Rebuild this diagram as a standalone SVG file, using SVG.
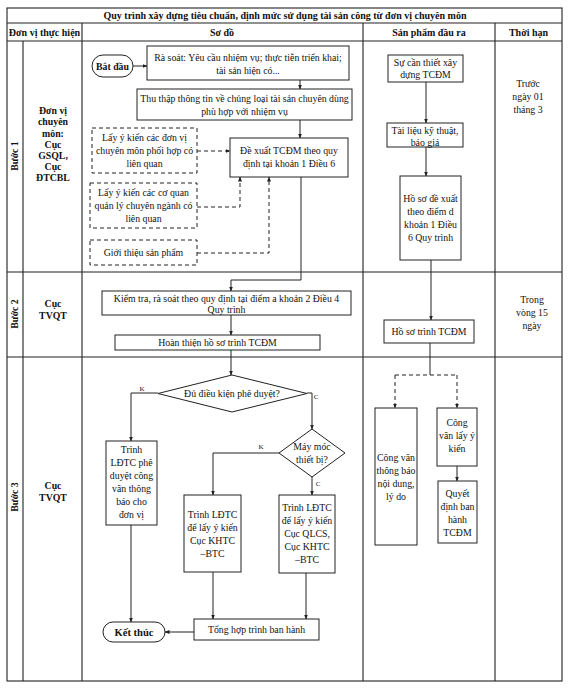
<svg xmlns="http://www.w3.org/2000/svg" width="569" height="688" viewBox="0 0 569 688">
<defs>
<marker id="ah" viewBox="0 0 10 10" refX="9" refY="5" markerWidth="5" markerHeight="5" orient="auto" markerUnits="userSpaceOnUse"><path d="M0,1 L10,5 L0,9 z" fill="#222"/></marker>
</defs>
<style>
text{font-family:"Liberation Serif","Times New Roman",serif;font-size:9.8px;fill:#111;text-anchor:middle}
.b{font-weight:bold}
.t{font-size:10px}
.tbl{stroke:#222;stroke-width:1.1;fill:none}
.box{fill:#fff;stroke:#222;stroke-width:1}
.dbox{fill:#fff;stroke:#222;stroke-width:1;stroke-dasharray:4,3}
.c{fill:none;stroke:#222;stroke-width:1}
.ca{fill:none;stroke:#222;stroke-width:1;marker-end:url(#ah)}
.dc{fill:none;stroke:#222;stroke-width:1;stroke-dasharray:4,3}
.dca{fill:none;stroke:#222;stroke-width:1;stroke-dasharray:4,3;marker-end:url(#ah)}
.lbl{font-size:7px}
</style>
<rect width="569" height="688" fill="#fff"/>
<g id="table">
<rect class="tbl" x="7" y="8" width="555" height="673"/>
<path class="tbl" d="M7,23 H562 M7,41 H562 M7,272 H562 M7,357 H562 M23,41 V681 M82,23 V681 M363,23 V681 M495,23 V681"/>
<text class="b t" x="285" y="19">Quy trình xây dựng tiêu chuẩn, định mức sử dụng tài sản công từ đơn vị chuyên môn</text>
<text class="b t" x="44.5" y="36">Đơn vị thực hiện</text>
<text class="b t" x="222" y="36">Sơ đồ</text>
<text class="b t" x="429" y="36">Sản phẩm đầu ra</text>
<text class="b t" x="528.5" y="36">Thời hạn</text>
<text class="b" transform="translate(18,156) rotate(-90)">Bước 1</text>
<text class="b" transform="translate(18,314) rotate(-90)">Bước 2</text>
<text class="b" transform="translate(18,497) rotate(-90)">Bước 3</text>
<text class="b" x="53" y="114">Đơn vị</text>
<text class="b" x="53" y="125">chuyên</text>
<text class="b" x="53" y="137">môn:</text>
<text class="b" x="53" y="148">Cục</text>
<text class="b" x="53" y="159">GSQL,</text>
<text class="b" x="53" y="170">Cục</text>
<text class="b" x="53" y="181">ĐTCBL</text>
<text class="b" x="53" y="307">Cục</text>
<text class="b" x="53" y="319">TVQT</text>
<text class="b" x="53" y="489">Cục</text>
<text class="b" x="53" y="501">TVQT</text>
<text x="528" y="87">Trước</text>
<text x="528" y="100">ngày 01</text>
<text x="528" y="113">tháng 3</text>
<text x="532" y="303">Trong</text>
<text x="532" y="316">vòng 15</text>
<text x="532" y="329">ngày</text>
</g>
<g id="connectors">
<path class="ca" d="M133,66 H147"/>
<path class="ca" d="M300,80 V89"/>
<path class="ca" d="M300,120 V138"/>
<path class="dca" d="M197,151 H230"/>
<path class="dca" d="M197,207 H240 V177"/>
<path class="dca" d="M197,253 H269 V177"/>
<path class="ca" d="M301,177 V280 H231 V291"/>
<path class="ca" d="M231,315 V335"/>
<path class="ca" d="M231,350 V375"/>
<path class="ca" d="M158,393 H131 V441"/>
<path class="ca" d="M307,393 H312 V429"/>
<path class="ca" d="M279,453 H213 V495"/>
<path class="ca" d="M312,477 V495"/>
<path class="ca" d="M131,525 V622"/>
<path class="ca" d="M213,572 V619"/>
<path class="ca" d="M306,573 V619"/>
<path class="ca" d="M194,632 H165"/>
<path class="ca" d="M426,82 V123"/>
<path class="ca" d="M426,147 V176"/>
<path class="ca" d="M431,260 V320"/>
<path class="c" d="M430,343 V375"/>
<path class="dc" d="M395,375 H457"/>
<path class="dca" d="M395,375 V408"/>
<path class="dca" d="M457,375 V408"/>
<path class="ca" d="M457,466 V481"/>
<text class="lbl" x="142" y="391">K</text>
<text class="lbl" x="316" y="399">C</text>
<text class="lbl" x="261" y="449">K</text>
<text class="lbl" x="318" y="486">C</text>
</g>
<g id="n-start"><rect class="box" x="92" y="55" width="41" height="22" rx="11" ry="11"/><text class="b" x="112.5" y="69.5">Bắt đầu</text></g>
<g id="n-rasoat"><rect class="box" x="147" y="46" width="202" height="34"/><text x="248" y="61">Rà soát: Yêu cầu nhiệm vụ; thực tiễn triển khai;</text><text x="248" y="74">tài sản hiện có...</text></g>
<g id="n-thuthap"><rect class="box" x="137" y="89" width="215" height="31"/><text x="244.5" y="102">Thu thập thông tin về chủng loại tài sản chuyên dùng</text><text x="244.5" y="115">phù hợp với nhiệm vụ</text></g>
<g id="n-dx1"><rect class="dbox" x="92" y="128" width="105" height="45"/><text x="144.5" y="141">Lấy ý kiến các đơn vị</text><text x="144.5" y="154">chuyên môn phối hợp có</text><text x="144.5" y="167">liên quan</text></g>
<g id="n-dexuat"><rect class="box" x="230" y="138" width="118" height="39"/><text x="289" y="154">Đề xuất TCĐM theo quy</text><text x="289" y="167">định tại khoản 1 Điều 6</text></g>
<g id="n-dx2"><rect class="dbox" x="90" y="183" width="107" height="45"/><text x="143.5" y="196">Lấy ý kiến các cơ quan</text><text x="143.5" y="209">quản lý chuyên ngành có</text><text x="143.5" y="222">liên quan</text></g>
<g id="n-dx3"><rect class="dbox" x="90" y="240" width="107" height="25"/><text x="143.5" y="256">Giới thiệu sản phẩm</text></g>
<g id="n-kiemtra"><rect class="box" x="102" y="291" width="249" height="24"/><text x="226.5" y="302">Kiểm tra, rà soát theo quy định tại điểm a khoản 2 Điều 4</text><text x="226.5" y="313">Quy trình</text></g>
<g id="n-hoanthien"><rect class="box" x="115" y="335" width="205" height="15"/><text x="217.5" y="346">Hoàn thiện hồ  sơ trình TCĐM</text></g>
<g id="n-d1"><polygon class="box" points="232,375 307,393.5 232,412 158,393.5"/><text x="232" y="397">Đủ điều kiện phê duyệt?</text></g>
<g id="n-d2"><polygon class="box" points="312,429 345,453 312,477 279,453"/><text x="312" y="450">Máy móc</text><text x="312" y="463">thiết bị?</text></g>
<g id="n-trinh1"><rect class="box" x="106" y="441" width="51" height="84"/><text x="131.5" y="453">Trình</text><text x="131.5" y="466">LĐTC phê</text><text x="131.5" y="479">duyệt công</text><text x="131.5" y="492">văn thông</text><text x="131.5" y="505">báo cho</text><text x="131.5" y="518">đơn vị</text></g>
<g id="n-trinh2"><rect class="box" x="184" y="495" width="57" height="77"/><text x="212.5" y="518">Trình LĐTC</text><text x="212.5" y="531">để lấy ý kiến</text><text x="212.5" y="544">Cục KHTC</text><text x="212.5" y="557">–BTC</text></g>
<g id="n-trinh3"><rect class="box" x="279" y="495" width="56" height="78"/><text x="307" y="511">Trình LĐTC</text><text x="307" y="524">để lấy ý kiến</text><text x="307" y="537">Cục QLCS,</text><text x="307" y="550">Cục KHTC</text><text x="307" y="563">–BTC</text></g>
<g id="n-tonghop"><rect class="box" x="194" y="619" width="125" height="21"/><text x="256.5" y="633">Tổng hợp trình ban hành</text></g>
<g id="n-end"><rect class="box" x="103" y="622" width="62" height="20" rx="10" ry="10"/><text class="b" x="134" y="636" style="font-size:10.5px">Kết thúc</text></g>
<g id="n-p1"><rect class="box" x="388" y="55" width="75" height="27"/><text x="425.5" y="66">Sự cần thiết xây</text><text x="425.5" y="78">dựng TCĐM</text></g>
<g id="n-p2"><rect class="box" x="387" y="123" width="76" height="24"/><text x="425" y="134">Tài liệu kỹ thuật,</text><text x="425" y="146">báo giá</text></g>
<g id="n-p3"><rect class="box" x="400" y="176" width="61" height="84"/><text x="430.5" y="202">Hồ sơ đề xuất</text><text x="430.5" y="215">theo điểm  d</text><text x="430.5" y="228">khoản 1 Điều</text><text x="430.5" y="241">6 Quy trình</text></g>
<g id="n-p4"><rect class="box" x="384" y="320" width="90" height="23"/><text x="429" y="335">Hồ sơ trình TCĐM</text></g>
<g id="n-p5"><rect class="box" x="375" y="408" width="42" height="137"/><text x="396" y="461">Công văn</text><text x="396" y="474">thông báo</text><text x="396" y="487">nội dung,</text><text x="396" y="500">lý do</text></g>
<g id="n-p6"><rect class="box" x="437" y="408" width="40" height="58"/><text x="457" y="426">Công</text><text x="457" y="439">văn lấy ý</text><text x="457" y="452">kiến</text></g>
<g id="n-p7"><rect class="box" x="438" y="481" width="39" height="62"/><text x="457.5" y="497">Quyết</text><text x="457.5" y="510">định ban</text><text x="457.5" y="523">hành</text><text x="457.5" y="536">TCĐM</text></g>
</svg>
